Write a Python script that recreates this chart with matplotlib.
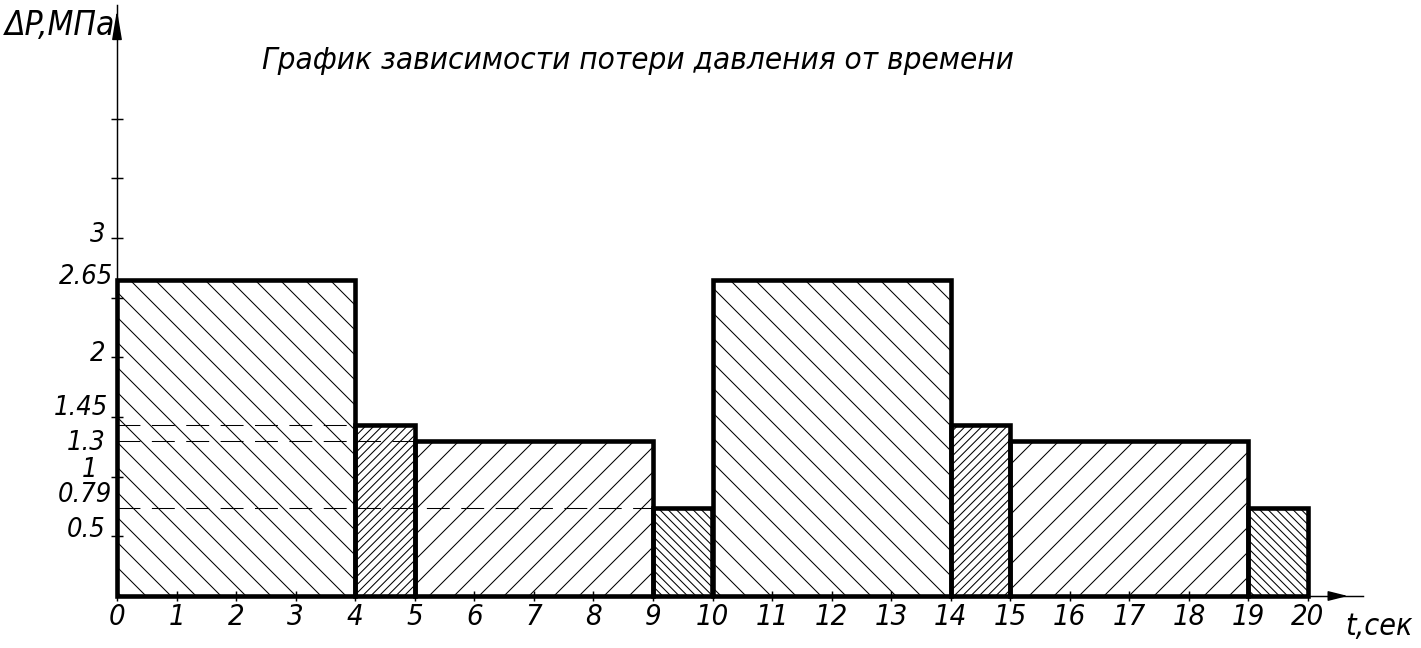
import matplotlib
matplotlib.use('Agg')
import matplotlib.pyplot as plt

plt.rcParams['font.family'] = 'DejaVu Sans'
plt.rcParams['hatch.linewidth'] = 0.5

# pressure loss steps: start time, duration, level
t_start = [0, 4, 5, 9, 10, 14, 15, 19]
t_len = [4, 1, 4, 1, 4, 1, 4, 1]
dP = [2.65, 1.43, 1.3, 0.74, 2.65, 1.43, 1.3, 0.74]
hatches = ['\\\\', '//////', '//', '\\\\\\\\\\\\'] * 2

# dashed guide lines from the y axis to the bars
dash_levels = [1.43, 1.3, 0.74]
dash_ends = [4, 5, 9]

x_ticks = list(range(0, 21))
y_ticks = [0.5, 1, 1.5, 2, 2.5, 3, 3.5, 4]
y_labels = ['3', '2.65', '2', '1.45', '1.3', '1', '0.79', '0.5']
y_label_pos = [3.03, 2.67, 2.03, 1.58, 1.28, 1.06, 0.85, 0.55]
y_label_x = [-0.2, -0.07, -0.2, -0.15, -0.2, -0.33, -0.08, -0.2]

title = "График зависимости потери давления от времени"
font = dict(style='italic', stretch='condensed')

fig = plt.figure(figsize=(1421 / 150, 648 / 150), dpi=150)
ax = fig.add_axes([0, 0, 1, 1])
ax.set_xlim(-117 / 59.55, (1421 - 117) / 59.55)
ax.set_ylim(-52 / 119.3, 596 / 119.3)

for s in ['top', 'right']:
    ax.spines[s].set_visible(False)
ax.spines['left'].set_position(('data', 0))
ax.spines['bottom'].set_position(('data', 0))
ax.spines['left'].set_bounds(0, 4.955)
ax.spines['bottom'].set_bounds(0, 20.92)
ax.spines['left'].set_linewidth(0.7)
ax.spines['bottom'].set_linewidth(0.7)

ax.set_xticks(x_ticks)
ax.set_xticklabels([str(v) for v in x_ticks], **font)
ax.set_yticks(y_ticks)
ax.tick_params(axis='x', direction='inout', length=5, width=0.7, pad=1, labelsize=14)
ax.tick_params(axis='y', direction='inout', length=5.5, width=0.7, labelleft=False)

bars = ax.bar(t_start, dP, width=t_len, align='edge', fill=False,
              edgecolor='k', linewidth=2.2, zorder=3)
for p, h in zip(bars.patches, hatches):
    p.set_hatch(h)
    p.set_joinstyle('miter')

for lvl, end in zip(dash_levels, dash_ends):
    ax.plot([0, end], [lvl, lvl], color='k', lw=0.5, ls=(0, (22, 11)), zorder=4)

# axis arrows
ax.annotate('', xy=(0, 4.912), xytext=(0, 4.70),
            arrowprops=dict(arrowstyle='-|>,head_length=1.2,head_width=0.2',
                            color='k', lw=0.7, shrinkA=0, shrinkB=0))
ax.annotate('', xy=(20.67, 0), xytext=(20.4, 0),
            arrowprops=dict(arrowstyle='-|>,head_length=0.8,head_width=0.2',
                            color='k', lw=0.7, shrinkA=0, shrinkB=0))

for lab, pos, xl in zip(y_labels, y_label_pos, y_label_x):
    ax.text(xl, pos, lab, ha='right', va='center', fontsize=13, **font)

ax.text(2.435, 4.417, title, ha='left', va='baseline', fontsize=15, **font)
ax.text(-1.88, 4.70, "ΔP,МПа", ha='left', va='baseline', fontsize=16, **font)
ax.text(20.62, -0.327, "t,сек", ha='left', va='baseline', fontsize=14.5, **font)

fig.savefig('out.png', dpi=150)
